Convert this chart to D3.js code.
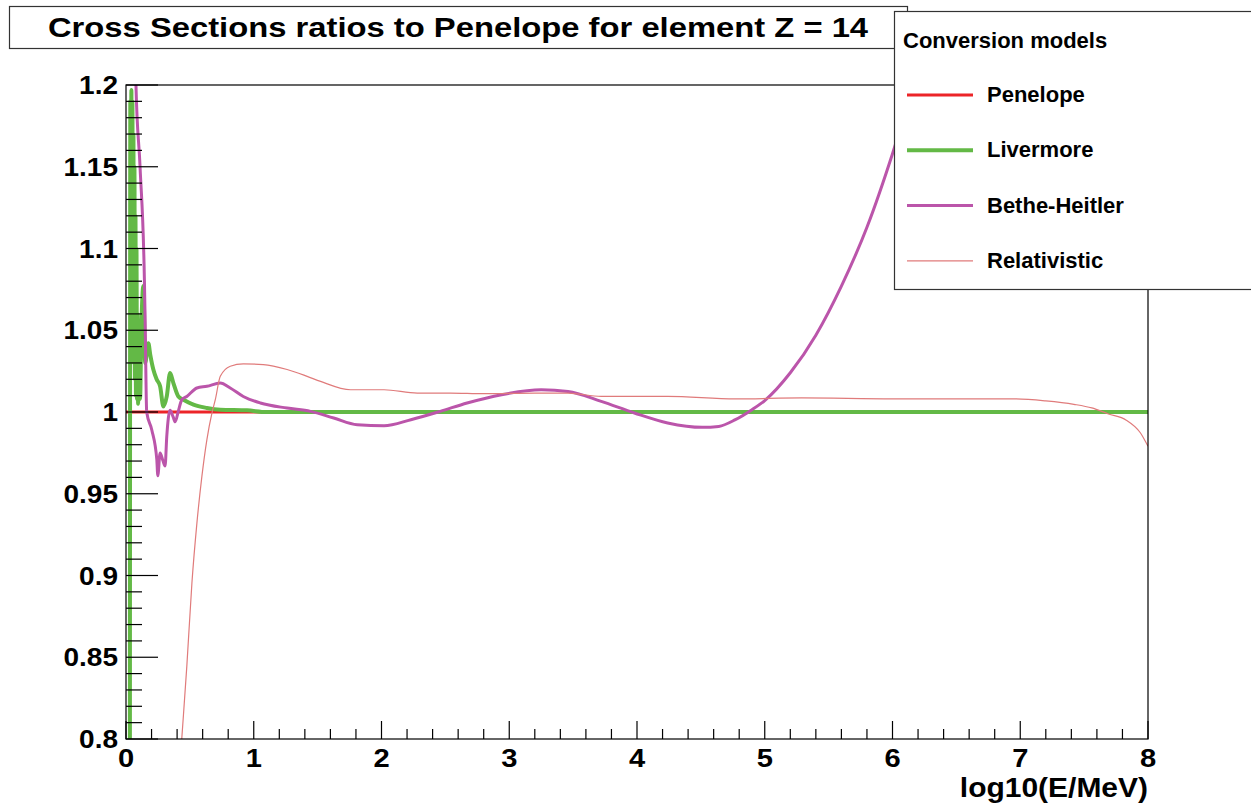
<!DOCTYPE html>
<html>
<head>
<meta charset="utf-8">
<script src="https://cdn.jsdelivr.net/npm/d3@7"></script>
<style>
  body { margin: 0; background: #fff; }
  text { font-family: "Liberation Sans", Arial, sans-serif; font-weight: bold; fill: #000; }
</style>
</head>
<body>
<div id="chart"></div>
<script>
const titleText = "Cross Sections ratios to Penelope for element Z = 14"
const xLabel = "log10(E/MeV)"
const legendTitle = "Conversion models"
const modelNames = ["Penelope", "Livermore", "Bethe-Heitler", "Relativistic"]
const modelColors = ["#ec2428", "#63b946", "#bb55aa", "#e07b7b"]
const modelWidths = [3, 4, 3, 1.2]

const xTicks = [0, 1, 2, 3, 4, 5, 6, 7, 8]
const yTicks = [0.8, 0.85, 0.9, 0.95, 1, 1.05, 1.1, 1.15, 1.2]

// [log10(E/MeV), ratio]
const penelope = [[0, 1], [8, 1]]
const livermore = [
    [0.03, 0.70], [0.034, 1.19], [0.038, 1.06], [0.042, 1.197], [0.046, 1.10], [0.05, 1.19],
    [0.054, 1.05], [0.058, 1.17], [0.062, 1.03], [0.066, 1.15], [0.07, 1.02], [0.074, 1.12],
    [0.078, 1.01], [0.082, 1.10], [0.086, 1.008], [0.09, 1.06], [0.095, 1.005], [0.1, 1.05],
    [0.11, 1.008], [0.12, 1.05], [0.136, 1.077], [0.15, 1.03], [0.175, 1.042], [0.19, 1.035],
    [0.214, 1.026], [0.24, 1.02], [0.267, 1.0157], [0.293, 1.0034], [0.319, 1.0095], [0.345, 1.0238],
    [0.371, 1.0177], [0.41, 1.0095], [0.45, 1.0075], [0.528, 1.0045], [0.633, 1.0025], [0.738, 1.0014],
    [0.947, 1.001], [1.1, 1.0], [8, 1.0]
]
const betheHeitler = [
    [0.072, 1.23], [0.078, 1.2], [0.11, 1.15], [0.144, 1.081], [0.149, 1.06], [0.162, 1.0],
    [0.202, 0.989], [0.241, 0.971], [0.249, 0.961], [0.267, 0.975], [0.29, 0.97], [0.306, 0.967],
    [0.319, 0.985], [0.345, 1.001], [0.369, 0.997], [0.385, 0.994], [0.408, 1.0], [0.437, 1.0075],
    [0.476, 1.0095], [0.555, 1.0147], [0.633, 1.0157], [0.738, 1.0177], [0.816, 1.0147], [0.918, 1.0095],
    [1.052, 1.0055], [1.261, 1.0024], [1.444, 1.0004], [1.626, 0.9963], [1.81, 0.9922], [2.02, 0.9916],
    [2.23, 0.9953], [2.46, 1.0004], [2.67, 1.0055], [2.94, 1.0106], [3.25, 1.0136], [3.46, 1.0126],
    [3.72, 1.0065], [3.98, 0.9994], [4.24, 0.9933], [4.51, 0.9906], [4.64, 0.9912], [4.77, 0.9953],
    [4.90, 1.0014], [5.0, 1.007], [5.2, 1.024], [5.4, 1.047], [5.6, 1.077], [5.8, 1.113],
    [6.0, 1.158], [6.2, 1.21]
]
const relativistic = [
    [0.40, 0.759], [0.437, 0.8006], [0.476, 0.8444], [0.516, 0.8954], [0.555, 0.932], [0.594, 0.9606],
    [0.633, 0.983], [0.673, 0.9994], [0.699, 1.0075], [0.738, 1.0218], [0.816, 1.028], [0.918, 1.0294],
    [1.075, 1.029], [1.261, 1.026], [1.418, 1.0218], [1.523, 1.0187], [1.758, 1.0136], [2.02, 1.0136],
    [2.28, 1.0116], [2.54, 1.0116], [2.80, 1.0112], [3.2, 1.0116], [3.46, 1.0116], [3.72, 1.0095],
    [4.24, 1.0095], [4.77, 1.008], [5.29, 1.0086], [6.0, 1.008], [6.96, 1.008], [7.20, 1.0068],
    [7.42, 1.0047], [7.56, 1.0025], [7.69, 0.9988], [7.83, 0.995], [7.94, 0.9873], [8.0, 0.979]
]
const series = [penelope, livermore, betheHeitler, relativistic]

const width = 1251
const height = 806
const frame = { left: 126, right: 1148, top: 85, bottom: 739 }

const svg = d3.select('#chart')
    .append('svg')
    .attr('width', width)
    .attr('height', height)

// the ROOT canvas text is wider than Liberation Sans, stretch it a bit
const stretch = (sel, k) => sel.each(function () {
    const w = this.getComputedTextLength()
    d3.select(this).attr('textLength', w * k).attr('lengthAdjust', 'spacingAndGlyphs')
})

const x = d3.scaleLinear().domain([0, 8]).range([frame.left, frame.right])
const y = d3.scaleLinear().domain([0.8, 1.2]).range([frame.bottom, frame.top])

svg.append('clipPath').attr('id', 'plotClip')
    .append('rect')
    .attr('x', frame.left).attr('y', frame.top)
    .attr('width', frame.right - frame.left).attr('height', frame.bottom - frame.top)

// curves
const line = d3.line().x(d => x(d[0])).y(d => y(d[1])).curve(d3.curveMonotoneX)
const curves = svg.append('g').attr('clip-path', 'url(#plotClip)')
series.forEach((s, i) => {
    curves.append('path')
        .datum(s)
        .attr('d', line)
        .attr('fill', 'none')
        .attr('stroke', modelColors[i])
        .attr('stroke-width', modelWidths[i])
        .attr('stroke-linejoin', 'round')
})

// frame
svg.append('rect')
    .attr('x', frame.left).attr('y', frame.top)
    .attr('width', frame.right - frame.left).attr('height', frame.bottom - frame.top)
    .attr('fill', 'none').attr('stroke', '#000').attr('stroke-width', 1.2)

// y axis: ROOT style ticks pointing into the frame
const yAxis = svg.append('g')
d3.range(80, 121).forEach(v => {
    const major = v % 5 == 0
    yAxis.append('line')
        .attr('x1', frame.left).attr('x2', frame.left + (major ? 32 : 16))
        .attr('y1', y(v / 100)).attr('y2', y(v / 100))
        .attr('stroke', '#000').attr('stroke-width', 1.2)
})
yTicks.forEach(t => {
    yAxis.append('text')
        .attr('x', frame.left - 8)
        .attr('y', y(t) + 9)
        .attr('text-anchor', 'end')
        .style('font-size', '25px')
        .text(d3.format('')(t))
        .call(stretch, 1.12)
})

// x axis
const xAxis = svg.append('g')
d3.range(0, 41).forEach(v => {
    const major = v % 5 == 0
    xAxis.append('line')
        .attr('x1', x(v / 5)).attr('x2', x(v / 5))
        .attr('y1', frame.bottom).attr('y2', frame.bottom - (major ? 18 : 10))
        .attr('stroke', '#000').attr('stroke-width', 1.2)
})
xTicks.forEach(t => {
    xAxis.append('text')
        .attr('x', x(t))
        .attr('y', 767)
        .attr('text-anchor', 'middle')
        .style('font-size', '26px')
        .text(t)
        .call(stretch, 1.12)
})
svg.append('text')
    .attr('x', frame.right)
    .attr('y', 797)
    .attr('text-anchor', 'end')
    .style('font-size', '27px')
    .text(xLabel)
    .call(stretch, 1.11)

// title box
svg.append('rect')
    .attr('x', 9.5).attr('y', 6.5).attr('width', 898).attr('height', 42)
    .attr('fill', '#fff').attr('stroke', '#333').attr('stroke-width', 1.2)
svg.append('text')
    .attr('x', 458).attr('y', 37)
    .attr('text-anchor', 'middle')
    .style('font-size', '28px')
    .text(titleText)
    .call(stretch, 1.17)

// legend
const legend = svg.append('g')
legend.append('rect')
    .attr('x', 894.5).attr('y', 11.5).attr('width', 400).attr('height', 278)
    .attr('fill', '#fff').attr('stroke', '#333').attr('stroke-width', 1.2)
legend.append('text')
    .attr('x', 903).attr('y', 48)
    .style('font-size', '22px')
    .text(legendTitle)
modelNames.forEach((name, i) => {
    const ly = 95 + i * 55.3
    legend.append('line')
        .attr('x1', 907).attr('x2', 973)
        .attr('y1', ly).attr('y2', ly)
        .attr('stroke', modelColors[i])
        .attr('stroke-width', modelWidths[i])
    legend.append('text')
        .attr('x', 987).attr('y', ly + 7)
        .style('font-size', '22px')
        .text(name)
})
</script>
</body>
</html>
